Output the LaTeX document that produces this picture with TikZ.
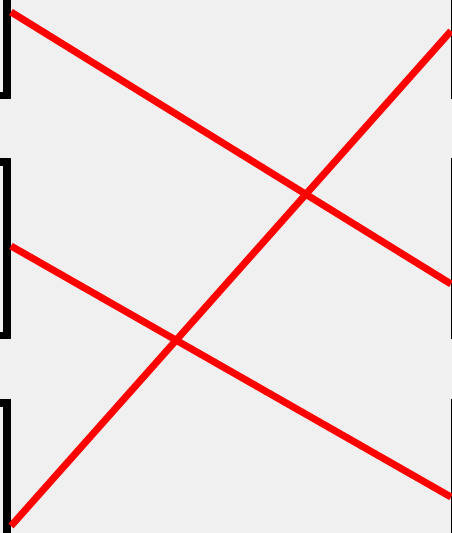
\documentclass[tikz,border=0pt]{standalone}
\begin{document}
\begin{tikzpicture}[x = 1pt, y = -1pt]
      \fill [gray!12] (0,0) rectangle (452,533);
      \useasboundingbox (0,0) rectangle (452,533);
      \clip (0,0) rectangle (452,533);
      % brackets on both sides
      \foreach \top/\bot in {-80/95.5, 162/335.5, 403/580} {
        \draw [line width = 7.5pt, miter limit = 10]
          (-10,\top) -- (7,\top) -- (7,\bot) -- (-10,\bot);
        \draw [line width = 7.5pt, miter limit = 10]
          (470,\top) -- (455,\top) -- (455,\bot) -- (470,\bot);
      }
      % ends of the strands
      \coordinate (in1) at (11,12);
      \coordinate (in2) at (11,246);
      \coordinate (in3) at (11,526);
      \coordinate (out1) at (451,31);
      \coordinate (out2) at (451,284);
      \coordinate (out3) at (451,497);
      \draw [red, line width = 7pt] (in1) -- (out2);
      \draw [red, line width = 7pt] (in2) -- (out3);
      \draw [red, line width = 7pt] (in3) -- (out1);
    \end{tikzpicture}
\end{document}
